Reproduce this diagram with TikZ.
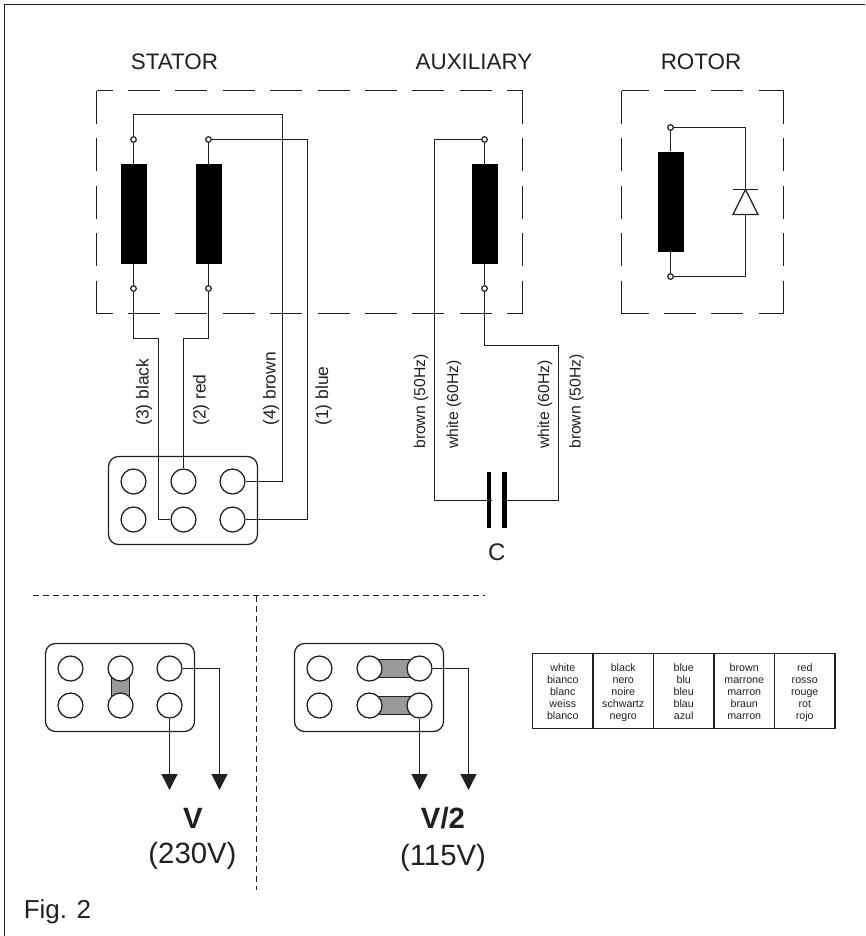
\documentclass[tikz,border=0pt]{standalone}
\usepackage{fontspec}
\setmainfont{Liberation Sans}
\usetikzlibrary{arrows.meta}
\definecolor{ink}{HTML}{231F20}
\tikzset{
    wire/.style={ink,line width=0.95pt},
    sidedash/.style={ink,line width=0.95pt,dash pattern=on 24.75pt off 10.875pt},
    edgedash/.style={ink,line width=0.95pt,dash pattern=on 24pt off 11.55pt},
    sepline/.style={ink,line width=0.7pt,dash pattern=on 4.5pt off 3pt},
    lead/.style={wire,-{Triangle[width=12pt,length=12pt]}},
    term/.style={circle,draw=ink,fill=white,line width=0.9pt,inner sep=0pt,minimum size=4.2pt},
    winding/.style={rectangle,fill=black,inner sep=0pt,minimum width=19.5pt,minimum height=75pt},
    post/.style={circle,draw=ink,fill=white,line width=0.95pt,inner sep=0pt,minimum size=18.75pt},
    block/.style={rectangle,draw=ink,line width=0.95pt,rounded corners=7.5pt,inner sep=0pt,minimum width=111.75pt,minimum height=66pt},
    jumper/.style={rectangle,draw=ink,fill=black!40,line width=0.95pt,inner sep=0pt},
    plate/.style={rectangle,fill=black,inner sep=0pt,minimum width=3.4pt,minimum height=42pt},
    title/.style={ink,font=\fontsize{16.8}{18}\selectfont,inner sep=0pt},
    colour/.style={ink,font=\fontsize{13.1}{15}\selectfont,inner sep=0pt,anchor=west,rotate=90},
    freq/.style={ink,font=\fontsize{11.8}{14}\selectfont,inner sep=0pt,anchor=west,rotate=90},
    volt/.style={ink,font=\fontsize{22}{24}\selectfont,inner sep=0pt,anchor=base},
    cell/.style={rectangle,draw=ink,line width=0.95pt,align=center,inner sep=0pt,minimum width=45.375pt,minimum height=56pt,text height=44pt,text depth=2pt,font=\fontsize{8}{9}\selectfont,text=ink}
}
\begin{document}
\begin{tikzpicture}[x=0.75pt,y=-0.75pt]
    \useasboundingbox (0,0) rectangle (865,936);
    \coordinate (frametop) at (865,4.5);
    \coordinate (framecorner) at (4.5,4.5);
    \coordinate (framefoot) at (4.5,936);
    \draw[ink,line width=1pt] (frametop) -- (framecorner) -- (framefoot);

    \node[title] (statortitle) at (174.5,62) {STATOR};
    \node[title] (auxtitle) at (474,62) {AUXILIARY};
    \node[title] (rotortitle) at (701,62) {ROTOR};

    \draw[edgedash,dash phase=12pt] (96.5,90.5) -- (522.5,90.5);
    \draw[edgedash,dash phase=12pt] (96.5,313.5) -- (522.5,313.5);
    \draw[sidedash] (96.5,90.5) -- (96.5,313.5);
    \draw[sidedash] (522.5,90.5) -- (522.5,313.5);
    \draw[edgedash,dash phase=3.75pt] (621.5,90.5) -- (783.5,90.5);
    \draw[edgedash,dash phase=3.75pt] (621.5,313.5) -- (783.5,313.5);
    \draw[sidedash] (621.5,90.5) -- (621.5,313.5);
    \draw[sidedash] (783.5,90.5) -- (783.5,313.5);

    \node[winding] (windA) at (133.5,214) {};
    \node[winding] (windB) at (208.5,214) {};
    \node[winding] (windC) at (484.5,214) {};
    \node[winding] (windD) at (670.5,201.5) {};
    \node[term] (topA) at (133.5,139.5) {};
    \node[term] (botA) at (133.5,288.5) {};
    \node[term] (topB) at (208.5,139.5) {};
    \node[term] (botB) at (208.5,288.5) {};
    \node[term] (topC) at (484.5,139.5) {};
    \node[term] (botC) at (484.5,288.5) {};
    \node[term] (topD) at (670.5,127.5) {};
    \node[term] (botD) at (670.5,276.5) {};
    \draw[wire] (topA) -- (windA);
    \draw[wire] (botA) -- (windA);
    \draw[wire] (topB) -- (windB);
    \draw[wire] (botB) -- (windB);
    \draw[wire] (topC) -- (windC);
    \draw[wire] (botC) -- (windC);
    \draw[wire] (topD) -- (windD);
    \draw[wire] (botD) -- (windD);

    \node[block] (mainblock) at (183,500.5) {};
    \node[post] (post11) at (133.5,481.5) {};
    \node[post] (post12) at (183.5,481.5) {};
    \node[post] (post13) at (232.5,481.5) {};
    \node[post] (post21) at (133.5,519.5) {};
    \node[post] (post22) at (183.5,519.5) {};
    \node[post] (post23) at (232.5,519.5) {};

    \coordinate (brownup) at (282.5,114.5);
    \coordinate (blueup) at (307.5,139.5);
    \coordinate (blackdown) at (158.5,338.5);
    \coordinate (reddown) at (183.5,338.5);
    \draw[wire] (topA) |- (brownup) |- (post13);
    \draw[wire] (topB) -- (blueup) |- (post23);
    \draw[wire] (botA) |- (blackdown) |- (post22);
    \draw[wire] (botB) |- (reddown) -- (post12);

    \node[colour] (lblblack) at (144,426) {(3) black};
    \node[colour] (lblred) at (201,426) {(2) red};
    \node[colour] (lblbrown) at (271,426) {(4) brown};
    \node[colour] (lblblue) at (323.5,426) {(1) blue};

    \node[plate] (plateL) at (489,500) {};
    \node[plate] (plateR) at (504.3,500) {};
    \coordinate (capleft) at (434.5,500.5);
    \coordinate (capright) at (558.5,500.5);
    \coordinate (capup) at (558.5,345.5);
    \draw[wire] (topC) -- (topC -| capleft) -- (capleft) -- (plateL.east |- capleft);
    \draw[wire] (botC) |- (capup) -- (capright) -- (plateR.west |- capright);
    \node[ink,font=\fontsize{18}{20}\selectfont,inner sep=0pt,anchor=base] (capname) at (496.7,560.5) {C};

    \node[freq] (lblbrownL) at (421,449) {brown (50Hz)};
    \node[freq] (lblwhiteL) at (454,449) {white (60Hz)};
    \node[freq] (lblwhiteR) at (545,449) {white (60Hz)};
    \node[freq] (lblbrownR) at (576.5,449) {brown (50Hz)};

    \coordinate (diodetop) at (745.5,189.5);
    \coordinate (diodebase) at (745.5,214.5);
    \draw[wire] (topD) -| (diodetop);
    \draw[wire] (botD) -| (diodebase);
    \draw[wire] (733,189.5) -- (758,189.5);
    \draw[wire,line join=miter] (diodetop) -- (758,214.5) -- (733,214.5) -- cycle;

    \draw[sepline] (32.5,595.5) -- (485,595.5);
    \draw[sepline] (256.5,595.5) -- (256.5,890);

    \node[block] (lowblock) at (120,687.5) {};
    \node[jumper,minimum width=13.5pt,minimum height=27.8pt] (linkmid) at (120.5,687) {};
    \node[post] (lowa11) at (70.5,668.5) {};
    \node[post] (lowa12) at (120.5,668.5) {};
    \node[post] (lowa13) at (169.5,668.5) {};
    \node[post] (lowa21) at (70.5,705.5) {};
    \node[post] (lowa22) at (120.5,705.5) {};
    \node[post] (lowa23) at (169.5,705.5) {};
    \coordinate (tipa1) at (169.5,790);
    \coordinate (tipa2) at (219.5,790);
    \draw[lead] (lowa23) -- (tipa1);
    \draw[lead] (lowa13) -| (tipa2);
    \node[volt,font=\fontsize{22}{24}\selectfont\bfseries] (voltfull) at (193,828) {V};
    \node[volt] (voltfullval) at (192.5,863) {(230V)};

    \node[block] (midblock) at (369,687.5) {};
    \node[jumper,minimum width=37.5pt,minimum height=13.8pt] (linktop) at (394.5,668.5) {};
    \node[jumper,minimum width=37.5pt,minimum height=13.8pt] (linkbot) at (394.5,705.5) {};
    \node[post] (lowb11) at (319.5,668.5) {};
    \node[post] (lowb12) at (369.5,668.5) {};
    \node[post] (lowb13) at (419.5,668.5) {};
    \node[post] (lowb21) at (319.5,705.5) {};
    \node[post] (lowb22) at (369.5,705.5) {};
    \node[post] (lowb23) at (419.5,705.5) {};
    \coordinate (tipb1) at (419.5,790);
    \coordinate (tipb2) at (468.5,790);
    \draw[lead] (lowb23) -- (tipb1);
    \draw[lead] (lowb13) -| (tipb2);
    \node[volt,font=\fontsize{22}{24}\selectfont\bfseries] (volthalf) at (443,828.5) {V/2};
    \node[volt] (volthalfval) at (443,865) {(115V)};

    \node[cell] (cellwhite) at (562.75,691) {white\\bianco\\blanc\\weiss\\blanco};
    \node[cell] (cellblack) at (623.25,691) {black\\nero\\noire\\schwartz\\negro};
    \node[cell] (cellblue) at (683.75,691) {blue\\blu\\bleu\\blau\\azul};
    \node[cell] (cellbrown) at (744.25,691) {brown\\marrone\\marron\\braun\\marron};
    \node[cell] (cellred) at (804.75,691) {red\\rosso\\rouge\\rot\\rojo};

    \node[ink,font=\fontsize{19.5}{21}\selectfont,inner sep=0pt,anchor=base west] (figname) at (23.5,918.7) {Fig. 2};
\end{tikzpicture}
\end{document}
